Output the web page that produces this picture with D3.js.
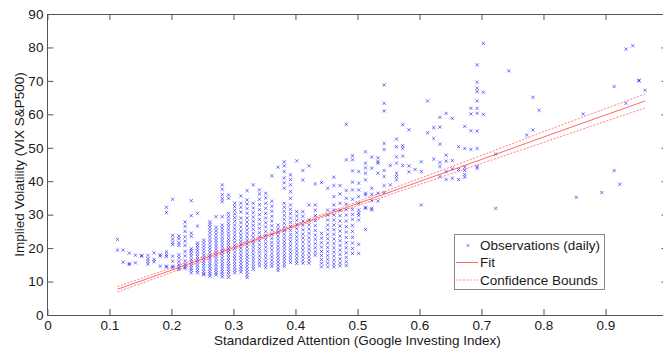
<!DOCTYPE html>
<html><head><meta charset="utf-8">
<script src="https://cdn.jsdelivr.net/npm/d3@7"></script>
<style>
html,body{margin:0;padding:0;background:#fff;overflow:hidden;}
svg{display:block;font-family:"Liberation Sans",Arial,sans-serif;}
</style></head>
<body>
<svg id="chart" width="663" height="348"></svg>
<script>
// Observation columns (x value of each column, y values in that column)
const obsX = [0.113,0.122,0.132,0.142,0.152,0.162,0.172,0.182,0.192,0.202,0.212,0.222,0.232,0.242,0.252,0.262,0.272,0.282,0.292,0.302,0.312,0.322,0.332,0.342,0.352,0.362,0.372,0.382,0.392,0.402,0.412,0.422,0.432,0.442,0.452,0.462,0.472,0.482,0.492,0.502,0.513,0.523,0.533,0.543,0.553,0.563,0.573,0.583,0.593,0.603,0.613,0.623,0.633,0.643,0.653,0.663,0.673,0.683,0.693,0.703,0.723,0.744,0.773,0.783,0.793,0.853,0.864,0.894,0.914,0.923,0.933,0.944,0.954,0.964];
const obsY = [
 [22.6,19.4],
 [19.4,15.8],
 [18.5,15.4,15.1],
 [17.9,15.6],
 [17.8,17.6],
 [17.8,16.8,16.0,15.2],
 [18.6,16.6,15.9],
 [18.0,17.6,14.6],
 [32.2,30.6,18.9,18.0,17.5,14.6,14.3],
 [34.6,23.8,22.7,21.7,21.0,17.6,16.1,14.6,14.2],
 [23.6,22.8,21.6,20.8,18.0,17.1,16.0,15.0,14.2,13.6],
 [27.8,26.5,25.0,23.4,22.1,20.8,19.0,17.7,16.2,15.1,14.4,13.9],
 [34.2,29.7,24.5,23.5,19.8,19.2,18.4,17.6,16.6,15.7,14.8,14.0,13.4,12.6],
 [30.4,26.6,21.5,20.8,20.0,19.2,18.3,17.5,16.6,15.8,14.9,14.1,13.3,12.6],
 [22.4,21.5,20.6,19.7,18.8,17.9,17.0,16.2,15.4,14.6,13.8,13.0,12.3,12.0],
 [27.9,27.1,26.3,25.4,24.5,23.5,22.5,21.6,20.6,19.7,18.8,17.9,17.1,16.3,15.4,14.6,13.8,13.0,12.3,11.6],
 [29.4,26.2,25.2,24.2,23.2,22.3,21.4,20.5,19.6,18.7,17.8,16.9,16.0,15.1,14.2,13.4,12.6,12.0],
 [38.9,37.6,36.0,34.8,33.9,29.4,26.9,26.0,25.1,24.2,23.2,22.3,21.4,20.5,19.6,18.8,17.9,17.0,16.1,15.3,14.5,13.7,12.9,12.2,11.4],
 [35.9,34.9,30.4,29.4,28.4,27.4,26.5,25.5,24.5,23.6,22.6,21.7,20.8,19.9,19.0,18.1,17.2,16.3,15.4,14.6,13.8,13.0,12.2,11.3],
 [33.4,32.4,31.3,30.2,29.1,28.0,26.9,25.8,24.8,23.8,22.8,21.8,20.8,19.8,18.8,17.8,16.9,16.0,15.1,14.2,13.4,12.6],
 [35.6,33.4,32.2,30.8,29.0,27.6,26.3,25.1,24.0,23.0,22.0,21.0,20.0,19.0,18.0,17.1,16.2,15.3,14.4,13.6,12.8],
 [37.2,34.4,33.2,31.8,30.4,29.0,27.8,26.6,25.5,24.4,23.3,22.3,21.3,20.3,19.3,18.3,17.4,16.5,15.6,14.7,13.8,12.9,12.0,11.2],
 [38.9,33.4,32.0,30.6,29.3,28.0,26.8,25.6,24.4,23.3,22.2,21.2,20.2,19.2,18.2,17.2,16.3,15.4,14.5,13.7],
 [37.4,36.2,34.6,33.0,31.5,30.0,28.6,27.2,25.9,24.6,23.4,22.2,21.0,19.9,18.8,17.7,16.6,15.6,14.7],
 [36.4,35.0,33.4,31.9,30.4,29.0,27.6,26.3,25.0,23.8,22.6,21.4,20.3,19.2,18.1,17.1,16.1,15.1,14.2],
 [41.6,34.0,32.5,31.0,29.5,28.1,26.7,25.4,24.1,22.9,21.7,20.6,19.5,18.4,17.4,16.4,15.4,14.5],
 [44.2,26.9,25.8,24.7,23.6,22.6,21.6,20.6,19.6,18.6,17.7,16.8,15.9,15.0,14.1,13.3],
 [45.8,44.6,42.9,41.0,39.5,37.9,33.4,32.2,31.0,29.8,28.6,27.4,26.3,25.2,24.1,23.0,22.0,21.0,20.0,19.0,18.0,17.1,16.2,15.3,14.5],
 [41.9,40.5,38.9,36.9,34.9,32.9,31.6,30.3,29.0,27.7,26.5,25.3,24.1,23.0,21.9,20.8,19.7,18.7,17.7,16.7,15.7],
 [46.1,30.9,29.6,28.3,27.0,25.8,24.6,23.4,22.3,21.2,20.1,19.1,18.1,17.1,16.2,15.4],
 [43.2,40.4,30.9,29.5,28.1,26.8,25.5,24.2,23.0,21.8,20.6,19.5,18.4,17.4,16.4,15.5],
 [44.6,32.9,28.4,27.0,25.7,24.4,23.1,21.9,20.7,19.6,18.5,17.4,16.4,15.5],
 [39.2,32.9,31.3,29.7,28.2,26.7,25.3,23.9,22.6,21.3,20.1,18.9,17.9],
 [39.6,24.4,23.0,21.6,20.3,19.0,17.8,16.6,15.5,14.4],
 [37.9,31.4,29.9,28.4,26.9,25.5,24.1,22.8,21.5,20.2,19.0,17.8,16.6,15.5,14.4],
 [41.2,38.7,35.4,32.9,31.4,29.9,28.4,26.9,25.5,24.1,22.7,21.4,20.1,18.8,17.6,16.4,15.3,14.4],
 [38.7,36.2,33.4,31.3,29.7,28.1,26.6,25.1,23.6,22.2,20.8,19.4,18.1,16.8,15.6,14.7],
 [57.0,46.4,37.2,34.9,33.2,31.5,29.9,28.1,26.4,24.8,23.2,21.6,20.1,18.6,17.2,15.9,14.8],
 [47.6,46.4,43.1,39.7,37.4,34.6,31.6,30.1,28.6,26.8,25.0,23.2,21.5,19.9,18.4],
 [42.9,39.4,37.4,35.4,33.4,31.4,30.5,29.8,28.4,21.1,18.4],
 [48.8,45.4,44.0,42.4,40.4,36.4,35.9,32.2,31.9,25.6],
 [47.2,43.9,37.9,36.1,34.2,31.9,31.4],
 [47.0,45.9,45.4,42.4,36.4,34.1],
 [68.8,63.3,61.0,51.3,49.5,43.2,41.4,38.7,36.6],
 [44.7,38.9],
 [52.6,50.3,47.3,45.4,42.4,41.4,40.4],
 [56.9,50.6,49.8,47.5,44.7],
 [55.4,44.6,42.8],
 [43.5],
 [45.8,42.9,32.9],
 [64.0,54.5],
 [56.0,52.8,46.6],
 [59.1,56.2,51.1,45.6,44.4,41.4],
 [60.3,47.8,46.0,42.9,40.5],
 [58.8,46.2,43.7,40.9],
 [50.3,43.5,40.5],
 [56.4,49.8,44.2,43.2,42.0,41.2],
 [61.8,60.1,55.1,49.5],
 [74.8,69.6,67.8,66.8,64.0,61.8,60.3,55.0,49.8,44.4,43.9],
 [81.2,66.6,60.0],
 [48.1,31.9],
 [73.0],
 [53.8],
 [65.1,55.3],
 [61.2],
 [35.2],
 [60.1],
 [36.6],
 [68.3,43.2],
 [39.1],
 [79.5,63.3],
 [80.5],
 [70.2,70.0],
 [67.2]
];
// Fit line and confidence bounds
const fitX   = [0.113, 0.2, 0.3, 0.4, 0.5, 0.6, 0.7, 0.8, 0.9, 0.964];
const fitY   = [7.7, 13.4, 20.1, 26.7, 33.3, 39.9, 46.5, 53.2, 59.8, 64.0];
const upperY = [8.5, 14.1, 20.6, 27.1, 33.9, 40.8, 47.7, 54.8, 61.7, 66.1];
const lowerY = [6.9, 12.7, 19.6, 26.3, 32.7, 39.0, 45.3, 51.6, 57.9, 61.9];
// Axis ticks and labels
const xTicks = [0, 0.1, 0.2, 0.3, 0.4, 0.5, 0.6, 0.7, 0.8, 0.9];
const yTicks = [0, 10, 20, 30, 40, 50, 60, 70, 80, 90];
const xLabel = "Standardized Attention (Google Investing Index)";
const yLabel = "Implied Volatility (VIX S&P500)";
const legendLabels = ["Observations (daily)", "Fit", "Confidence Bounds"];

const svg = d3.select("#chart");
const L = 47.4, R = 667.5, T = 14, B = 315;
const x = d3.scaleLinear().domain([0, 1]).range([L, R]);
const y = d3.scaleLinear().domain([0, 90]).range([B, T]);
const axisColor = "#555";
const textColor = "#1a1a1a";
const fs = "13.5px";

svg.append("rect").attr("x", 0).attr("y", 0).attr("width", 663).attr("height", 348).attr("fill", "#fff");

svg.append("clipPath").attr("id", "clip").append("rect")
  .attr("x", L).attr("y", T).attr("width", R - L).attr("height", B - T);

// points
const pts = [];
obsX.forEach((xv, i) => obsY[i].forEach(yv => pts.push([xv, yv])));
const s = 1.6;
const xPath = `M${-s},${-s}L${s},${s}M${-s},${s}L${s},${-s}`;
const gPts = svg.append("g").attr("clip-path", "url(#clip)");
gPts.selectAll("path.pt").data(pts).join("path")
  .attr("class", "pt")
  .attr("transform", d => `translate(${x(d[0])},${y(d[1])})`)
  .attr("d", xPath)
  .attr("fill", "none")
  .attr("stroke", "#0000ff")
  .attr("stroke-opacity", 0.55)
  .attr("stroke-width", 1);

// lines
const line = d3.line().x(d => x(d[0])).y(d => y(d[1]));
const gLines = svg.append("g").attr("clip-path", "url(#clip)");
gLines.append("path").attr("d", line(fitX.map((v, i) => [v, fitY[i]])))
  .attr("fill", "none").attr("stroke", "#ff0000").attr("stroke-opacity", 0.6).attr("stroke-width", 1);
[upperY, lowerY].forEach(arr => {
  gLines.append("path").attr("d", line(fitX.map((v, i) => [v, arr[i]])))
    .attr("fill", "none").attr("stroke", "#ff0000").attr("stroke-opacity", 0.5)
    .attr("stroke-width", 1).attr("stroke-dasharray", "2,1.5");
});

// axes
function styleAxis(g) {
  g.selectAll(".domain").remove();
  g.selectAll(".tick line").attr("stroke", axisColor);
  g.selectAll(".tick text").attr("fill", textColor).style("font-size", fs)
    .style("font-family", '"Liberation Sans", Arial, sans-serif');
}
const fmtX = d => d === 0 ? "0" : d3.format(".1f")(d);
svg.append("g").attr("transform", `translate(0,${B})`)
  .call(d3.axisBottom(x).tickValues(xTicks).tickFormat(fmtX).tickSizeInner(-6).tickSizeOuter(0).tickPadding(5))
  .call(styleAxis);
svg.append("g").attr("transform", `translate(0,${T})`)
  .call(d3.axisTop(x).tickValues(xTicks).tickFormat("").tickSizeInner(-6).tickSizeOuter(0))
  .call(styleAxis);
svg.append("g").attr("transform", `translate(${L},0)`)
  .call(d3.axisLeft(y).tickValues(yTicks).tickFormat(d3.format("d")).tickSizeInner(-6).tickSizeOuter(0).tickPadding(4))
  .call(styleAxis);
svg.append("g").attr("transform", `translate(${R},0)`)
  .call(d3.axisRight(y).tickValues(yTicks).tickFormat("").tickSizeInner(-6).tickSizeOuter(0))
  .call(styleAxis);

// box
svg.append("rect").attr("x", L).attr("y", T).attr("width", R - L).attr("height", B - T)
  .attr("fill", "none").attr("stroke", axisColor).attr("stroke-width", 1).attr("shape-rendering", "crispEdges");

// axis labels
svg.append("text").attr("x", (L + R) / 2).attr("y", 345)
  .attr("text-anchor", "middle").attr("fill", textColor).style("font-size", fs).text(xLabel);
svg.append("text").attr("transform", `translate(24,${(T + B) / 2}) rotate(-90)`)
  .attr("text-anchor", "middle").attr("fill", textColor).style("font-size", fs).text(yLabel);

// legend
const lg = svg.append("g");
lg.append("rect").attr("x", 454.5).attr("y", 234.5).attr("width", 150).attr("height", 55)
  .attr("fill", "#fff").attr("stroke", "#888").attr("stroke-width", 1);
const rowY = [245.5, 262.5, 280];
lg.append("path").attr("transform", `translate(468,${rowY[0]})`).attr("d", xPath)
  .attr("fill", "none").attr("stroke", "#0000ff").attr("stroke-opacity", 0.5);
lg.append("line").attr("x1", 456).attr("x2", 478).attr("y1", rowY[1]).attr("y2", rowY[1])
  .attr("stroke", "#ff0000").attr("stroke-opacity", 0.6);
lg.append("line").attr("x1", 456).attr("x2", 478).attr("y1", rowY[2]).attr("y2", rowY[2])
  .attr("stroke", "#ff0000").attr("stroke-opacity", 0.5).attr("stroke-dasharray", "2,1.5");
legendLabels.forEach((t, i) => {
  lg.append("text").attr("x", 480).attr("y", rowY[i]).attr("dy", "0.35em")
    .attr("fill", textColor).style("font-size", fs).text(t);
});
</script>
</body></html>
